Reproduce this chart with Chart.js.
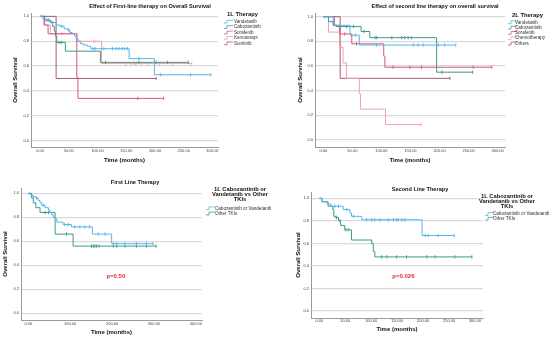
<!DOCTYPE html>
<html>
<head>
<meta charset="utf-8">
<script src="https://cdn.jsdelivr.net/npm/chart.js@4.4.1/dist/chart.umd.min.js"></script>
<style>
  html, body { margin: 0; padding: 0; background: #fff; }
  #wrap { position: relative; width: 550px; height: 338px; overflow: hidden; }
  canvas { position: absolute; }
</style>
</head>
<body>
<div id="wrap">
  <canvas id="c1" width="270" height="165" style="left:0;top:0"></canvas>
  <canvas id="c3" width="280" height="173" style="left:0;top:165px"></canvas>
  <canvas id="c2" width="280" height="165" style="left:270px;top:0"></canvas>
  <canvas id="c4" width="280" height="173" style="left:270px;top:165px"></canvas>
</div>
<script>
// tick labels
const yTicks = [0, 0.2, 0.4, 0.6, 0.8, 1.0];
const yTickLabels = ['0.0', '0.2', '0.4', '0.6', '0.8', '1.0'];
const xTicks300 = [0, 50, 100, 150, 200, 250, 300];
const xTickLabels300 = ['0.00', '50.00', '100.00', '150.00', '200.00', '250.00', '300.00'];
const xTicks400 = [0, 100, 200, 300, 400];
const xTickLabels400 = ['0.00', '100.00', '200.00', '300.00', '400.00'];

// panel 1 - first line therapy (time, survival, censored times)
const p1Names = ['Vandetanib', 'Cabozantinib', 'Sorafenib', 'Kemoterapi', 'Sunitinib'];
const p1VanT = [0, 5, 8, 15, 22, 28, 35, 42, 48, 52, 56, 60, 63, 66, 70, 75, 82, 88, 155, 199, 297];
const p1VanS = [1, 0.98, 0.97, 0.96, 0.95, 0.93, 0.92, 0.90, 0.89, 0.87, 0.86, 0.84, 0.82, 0.80, 0.78, 0.77, 0.76, 0.74, 0.66, 0.53, 0.53];
const p1VanC = [38, 50, 92, 96, 111, 126, 132, 137, 143, 147, 152, 172, 210, 262, 297];
const p1CabT = [0, 8, 18, 22, 25, 27, 29, 44, 105, 258];
const p1CabS = [1, 0.97, 0.95, 0.92, 0.88, 0.84, 0.79, 0.72, 0.63, 0.63];
const p1CabC = [12, 15, 33, 37, 114, 172, 202, 222, 258];
const p1SorT = [0, 8, 14, 64, 66, 215];
const p1SorS = [1, 0.93, 0.86, 0.51, 0.34, 0.34];
const p1SorC = [170, 215];
const p1KemT = [0, 6, 18, 64, 107, 264];
const p1KemS = [1, 0.93, 0.86, 0.80, 0.62, 0.62];
const p1KemC = [38, 94, 149, 158, 164, 167, 175, 187, 208, 231, 264];
const p1SunT = [0, 28, 202];
const p1SunS = [1, 0.5, 0.5];
const p1SunC = [202];

// panel 2 - second line therapy
const p2Names = ['Vandetanib', 'Cabozantinib', 'Sorafenib', 'Chemotherapy', 'Others'];
const p2VanT = [0, 17, 46, 62, 228];
const p2VanS = [1, 0.93, 0.85, 0.77, 0.77];
const p2VanC = [55, 92, 155, 163, 172, 198, 209, 228];
const p2CabT = [0, 9, 17, 22, 65, 80, 195, 257];
const p2CabS = [1, 0.96, 0.93, 0.92, 0.88, 0.83, 0.55, 0.55];
const p2CabC = [40, 52, 70, 89, 92, 118, 135, 140, 146, 152, 204, 257];
const p2SorT = [0, 19, 28, 49, 104, 106, 290];
const p2SorS = [1, 0.93, 0.86, 0.78, 0.68, 0.59, 0.59];
const p2SorC = [37, 57, 120, 149, 169, 258, 290];
const p2CheT = [0, 9, 28, 34, 40, 62, 64, 107, 168];
const p2CheS = [1, 0.875, 0.75, 0.625, 0.5, 0.375, 0.25, 0.125, 0.125];
const p2CheC = [168];
const p2OthT = [0, 29, 218];
const p2OthS = [1, 0.5, 0.5];
const p2OthC = [218];

// panel 3 - first line, cabozantinib/vandetanib vs other TKIs
const p3Names = ['Cabozantinib or Vandetanib', 'Other TKIs'];
const p3CvT = [0, 4, 8, 12, 18, 24, 28, 32, 40, 48, 52, 56, 60, 64, 68, 83, 103, 153, 199, 298];
const p3CvS = [1, 0.99, 0.98, 0.97, 0.96, 0.94, 0.92, 0.90, 0.88, 0.86, 0.84, 0.82, 0.80, 0.79, 0.76, 0.74, 0.72, 0.66, 0.58, 0.58];
const p3CvC = [12, 20, 36, 87, 95, 111, 123, 135, 146, 167, 183, 203, 211, 231, 258, 282, 298];
const p3OtT = [0, 8, 12, 18, 28, 64, 107, 305];
const p3OtS = [1, 0.96, 0.92, 0.88, 0.84, 0.66, 0.56, 0.56];
const p3OtC = [40, 48, 91, 151, 155, 159, 163, 169, 203, 211, 231, 258, 282, 305];

// panel 4 - second line, cabozantinib/vandetanib vs other TKIs
const p4Names = ['Cabozantinib or Vandetanib', 'Other TKIs'];
const p4CvT = [0, 5, 15, 22, 46, 59, 62, 82, 198, 260];
const p4CvS = [1, 0.97, 0.95, 0.93, 0.90, 0.87, 0.84, 0.81, 0.67, 0.67];
const p4CvC = [30, 37, 53, 66, 91, 101, 107, 117, 133, 143, 149, 152, 159, 165, 204, 210, 229, 260];
const p4OtT = [0, 5, 17, 26, 28, 31, 37, 41, 49, 62, 101, 104, 107, 294];
const p4OtS = [1, 0.97, 0.93, 0.90, 0.84, 0.83, 0.80, 0.76, 0.72, 0.63, 0.60, 0.53, 0.48, 0.48];
const p4OtC = [33, 40, 51, 56, 120, 130, 149, 168, 207, 223, 261, 294];

const BLUE = '#57b3ec', TEAL = '#3f9a8a', SORA = '#d4587f', CHEMO = '#f5a0ac', BROWN = '#a65e6c';
const FONT = '"Liberation Sans", Arial, sans-serif';
Chart.defaults.font.family = FONT;

function stepPts(t, s) {
  return t.map((v, i) => ({ x: v, y: s[i] }));
}
function censPts(t, s, c) {
  return c.map(v => {
    let k = 0;
    for (let i = 0; i < t.length; i++) if (t[i] <= v) k = i;
    return { x: v, y: s[k] };
  });
}
function series(label, color, t, s, c) {
  return [
    { label: label, data: stepPts(t, s), borderColor: color, borderWidth: 1, stepped: true,
      pointRadius: 0, fill: false, inLegend: true },
    { label: label + ' (censored)', data: censPts(t, s, c), showLine: false,
      pointStyle: 'line', rotation: 90, pointRadius: 1.7, pointBorderColor: color,
      pointBorderWidth: 0.9, borderColor: color }
  ];
}

// draws the panel title, the legend block and the p value
const decor = {
  id: 'decor',
  afterDraw(chart, args, o) {
    const ctx = chart.ctx;
    ctx.save();
    ctx.textBaseline = 'middle';
    ctx.fillStyle = '#111';
    ctx.font = 'bold 5.6px ' + FONT;
    ctx.textAlign = 'center';
    ctx.fillText(o.title, o.titleX, o.titleY);

    ctx.font = 'bold 5.8px ' + FONT;
    ctx.textAlign = o.legAlign;
    o.legTitle.forEach((line, i) => ctx.fillText(line, o.legX, o.legY + i * 5.3));

    ctx.font = '4.6px ' + FONT;
    ctx.textAlign = 'left';
    ctx.fillStyle = '#333';
    const items = chart.data.datasets.filter(d => d.inLegend);
    items.forEach((d, i) => {
      const y = o.itemY + i * o.itemStep;
      const x = o.iconX;
      ctx.strokeStyle = d.borderColor;
      ctx.lineWidth = 0.8;
      ctx.beginPath();
      ctx.moveTo(x, y + 1.4);
      ctx.lineTo(x + 3, y + 1.4);
      ctx.lineTo(x + 3, y - 1.4);
      ctx.lineTo(x + 9, y - 1.4);
      ctx.stroke();
      ctx.fillText(d.label, o.textX, y);
    });

    if (o.pText) {
      ctx.fillStyle = '#e8262c';
      ctx.font = 'bold 6px ' + FONT;
      ctx.textAlign = 'center';
      ctx.fillText(o.pText, chart.scales.x.getPixelForValue(o.pT), chart.scales.y.getPixelForValue(o.pS));
    }
    ctx.restore();
  }
};

function makeChart(id, datasets, c, deco) {
  return new Chart(document.getElementById(id), {
    type: 'line',
    data: { datasets: datasets },
    options: {
      responsive: false,
      animation: false,
      events: [],
      layout: { padding: c.pad },
      plugins: { legend: { display: false }, tooltip: { enabled: false }, decor: deco },
      scales: {
        x: {
          type: 'linear', min: c.xMin, max: c.xMax,
          afterBuildTicks: s => { s.ticks = c.xTicks.map(v => ({ value: v })); },
          afterFit: s => { s.height = c.xH; },
          ticks: { callback: (v, i) => c.xLabels[i], font: { size: 4 }, color: '#444',
                   padding: c.xPad, maxRotation: 0, autoSkip: false },
          grid: { display: false, drawTicks: false },
          border: { display: true, color: '#9a9a9a', width: 1 },
          title: { display: true, text: 'Time (months)', color: '#111',
                   font: { size: 6, weight: 'bold', lineHeight: 1 },
                   padding: { top: 0, bottom: c.xTitlePad } }
        },
        y: {
          min: c.yMin, max: c.yMax,
          afterBuildTicks: s => { s.ticks = yTicks.map(v => ({ value: v })); },
          afterFit: s => { s.width = c.yW; },
          ticks: { callback: (v, i) => yTickLabels[i], font: { size: 4 }, color: '#444', padding: 2 },
          grid: { color: '#dadada', lineWidth: 1.3, drawTicks: false },
          border: { display: true, color: '#9a9a9a', width: 1 },
          title: { display: true, text: 'Overall Survival', color: '#111',
                   font: { size: 6, weight: 'bold', lineHeight: 1 },
                   padding: { top: 0, bottom: 0 } }
        }
      }
    },
    plugins: [decor]
  });
}

makeChart('c1', [
  ...series(p1Names[0], BLUE, p1VanT, p1VanS, p1VanC),
  ...series(p1Names[1], TEAL, p1CabT, p1CabS, p1CabC),
  ...series(p1Names[2], SORA, p1SorT, p1SorS, p1SorC),
  ...series(p1Names[3], CHEMO, p1KemT, p1KemS, p1KemC),
  ...series(p1Names[4], BROWN, p1SunT, p1SunS, p1SunC)
], { pad: { left: 12, right: 52, top: 13, bottom: 0 }, yW: 19, xH: 18, xPad: 1, xTitlePad: 2,
     xMin: -15.7, xMax: 309.6, yMin: -0.051, yMax: 1.027, xTicks: xTicks300, xLabels: xTickLabels300 },
{ title: 'Effect of First-line therapy on Overall Survival', titleX: 150, titleY: 6,
  legTitle: ['1L Therapy'], legAlign: 'left', legX: 227, legY: 14,
  iconX: 224, textX: 234, itemY: 21.7, itemStep: 5.4 });

makeChart('c2', [
  ...series(p2Names[0], BLUE, p2VanT, p2VanS, p2VanC),
  ...series(p2Names[1], TEAL, p2CabT, p2CabS, p2CabC),
  ...series(p2Names[2], SORA, p2SorT, p2SorS, p2SorC),
  ...series(p2Names[3], CHEMO, p2CheT, p2CheS, p2CheC),
  ...series(p2Names[4], BROWN, p2OthT, p2OthS, p2OthC)
], { pad: { left: 27, right: 45, top: 13, bottom: 0 }, yW: 18, xH: 18, xPad: 1, xTitlePad: 2,
     xMin: -14.3, xMax: 312.7, yMin: -0.057, yMax: 1.03, xTicks: xTicks300, xLabels: xTickLabels300 },
{ title: 'Effect of second line therapy on overall survival', titleX: 165, titleY: 6,
  legTitle: ['2L Therapy'], legAlign: 'left', legX: 242, legY: 15,
  iconX: 238, textX: 245, itemY: 22.3, itemStep: 5.3 });

makeChart('c3', [
  ...series(p3Names[0], BLUE, p3CvT, p3CvS, p3CvC),
  ...series(p3Names[1], TEAL, p3OtT, p3OtS, p3OtC)
], { pad: { left: 2, right: 78, top: 23, bottom: 0 }, yW: 19, xH: 18, xPad: 1, xTitlePad: 2.7,
     xMin: -17.4, xMax: 414.6, yMin: -0.056, yMax: 1.044, xTicks: xTicks400, xLabels: xTickLabels400 },
{ title: 'First Line Therapy', titleX: 135, titleY: 17,
  legTitle: ['1L Cabozantinib or', 'Vandetanib vs Other', 'TKIs'], legAlign: 'center', legX: 240, legY: 24,
  iconX: 206, textX: 215, itemY: 43.3, itemStep: 5.2,
  pText: 'p=0.50', pT: 209, pS: 0.31 });

makeChart('c4', [
  ...series(p4Names[0], BLUE, p4CvT, p4CvS, p4CvC),
  ...series(p4Names[1], TEAL, p4OtT, p4OtS, p4OtC)
], { pad: { left: 25, right: 67, top: 27, bottom: 0 }, yW: 16, xH: 20, xPad: 0.6, xTitlePad: 5.7,
     xMin: -16, xMax: 315.4, yMin: -0.062, yMax: 1.056, xTicks: xTicks300, xLabels: xTickLabels300 },
{ title: 'Second Line Therapy', titleX: 150, titleY: 24,
  legTitle: ['1L Cabozantinib or', 'Vandetanib vs Other', 'TKIs'], legAlign: 'center', legX: 237, legY: 31,
  iconX: 215, textX: 223, itemY: 49, itemStep: 4.8,
  pText: 'p=0.026', pT: 162, pS: 0.31 });
</script>
</body>
</html>
